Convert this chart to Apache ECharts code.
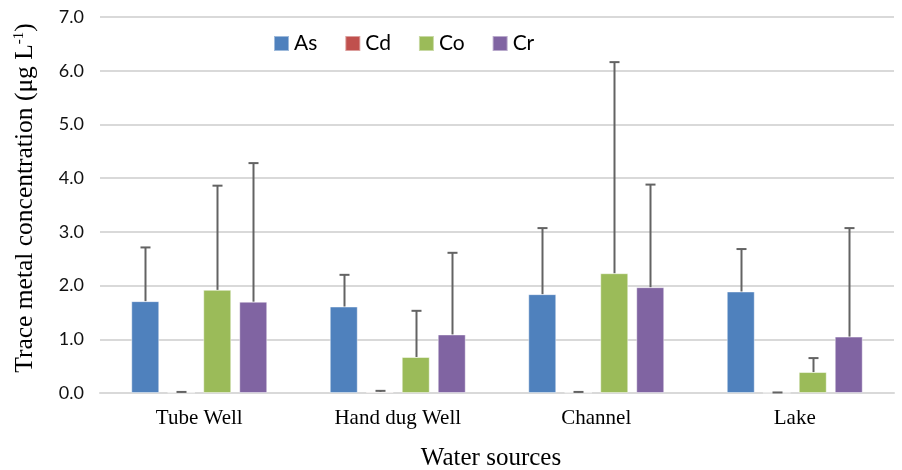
<!DOCTYPE html>
<html>
<head>
<meta charset="utf-8">
<script src="https://cdn.jsdelivr.net/npm/echarts@6/dist/echarts.min.js"></script>
<style>html,body{margin:0;padding:0;background:#fff}#c{width:902px;height:470px}</style>
</head>
<body>
<div id="c"></div>
<script>
var categories = ['Tube Well', 'Hand dug Well', 'Channel', 'Lake'];
var metals = ['As', 'Cd', 'Co', 'Cr'];
var colors = ['#4F81BD', '#C0504D', '#9BBB59', '#8064A2'];
var asMean = [1.71, 1.61, 1.84, 1.89];
var asSD   = [1.00, 0.59, 1.23, 0.79];
var cdMean = [0.01, 0.02, 0.01, 0.005];
var cdSD   = [0.01, 0.02, 0.01, 0.005];
var coMean = [1.92, 0.67, 2.23, 0.39];
var coSD   = [1.94, 0.86, 3.93, 0.26];
var crMean = [1.70, 1.09, 1.97, 1.05];
var crSD   = [2.58, 1.52, 1.91, 2.02];
var yTicks = [0, 1, 2, 3, 4, 5, 6, 7];

var means = [asMean, cdMean, coMean, crMean];
var sds = [asSD, cdSD, coSD, crSD];
var BAR_GAP = 0.286, CAT_GAP = 0.315;

var chart = echarts.init(document.getElementById('c'));
var series = [];
metals.forEach(function (m, k) {
  series.push({
    name: m, type: 'bar', data: means[k],
    barGap: (BAR_GAP * 100) + '%', barCategoryGap: (CAT_GAP * 100) + '%',
    itemStyle: { color: colors[k], borderColor: 'rgba(255,255,255,0.45)', borderWidth: 1 },
    z: 2
  });
});
metals.forEach(function (m, k) {
  series.push({
    name: m + ' err', type: 'custom', z: 5, silent: true,
    data: categories.map(function (c, i) { return [i, means[k][i], sds[k][i]]; }),
    renderItem: function (params, api) {
      var i = api.value(0), mean = api.value(1), sd = api.value(2);
      var catW = api.size([1, 0])[0];
      var barW = catW * (1 - CAT_GAP) / (4 + 3 * BAR_GAP);
      var off = (k - 1.5) * barW * (1 + BAR_GAP);
      var p0 = api.coord([i, mean]);
      var p1 = api.coord([i, mean + sd]);
      var x = Math.round(p0[0] + off) + 0.5;
      var st = { stroke: '#636363', lineWidth: 2 };
      return { type: 'group', children: [
        { type: 'line', shape: { x1: x, y1: p0[1], x2: x, y2: p1[1] }, style: st },
        { type: 'line', shape: { x1: x - 5, y1: p1[1], x2: x + 5, y2: p1[1] }, style: st }
      ]};
    }
  });
});

chart.setOption({
  animation: false,
  grid: { left: 100, right: 8, top: 17, bottom: 77, containLabel: false },
  legend: {
    data: metals, left: 268, top: 28, itemWidth: 15, itemHeight: 15, itemGap: 27,
    icon: 'rect', textStyle: { fontFamily: 'Lato', fontSize: 21, color: '#000' }
  },
  xAxis: {
    type: 'category', data: categories,
    axisLine: { lineStyle: { color: '#d9d9d9', width: 2 } },
    axisTick: { show: false },
    axisLabel: { fontFamily: 'Liberation Serif', fontSize: 21, color: '#000', margin: 15 }
  },
  yAxis: {
    type: 'value', min: yTicks[0], max: yTicks[yTicks.length - 1], interval: 1,
    axisLine: { show: false }, axisTick: { show: false },
    splitLine: { lineStyle: { color: '#d9d9d9', width: 2 } },
    axisLabel: { fontFamily: 'Lato', fontSize: 18, color: '#111', margin: 16,
      formatter: function (v) { return v.toFixed(1); } }
  },
  graphic: [
    { type: 'text', x: 25, y: 198, rotation: Math.PI / 2,
      style: { text: '{m|Trace metal concentration (μg L}{s|-1}{m|)}', align: 'center', verticalAlign: 'middle',
        rich: { m: { fontFamily: 'Liberation Serif', fontSize: 25.5, fill: '#000', color: '#000' },
                s: { fontFamily: 'Liberation Serif', fontSize: 15, fill: '#000', color: '#000', verticalAlign: 'top', padding: [0, 0, 10, 0] } } } },
    { type: 'text', x: 491, y: 458,
      style: { text: 'Water sources', align: 'center', verticalAlign: 'middle',
        font: '25px "Liberation Serif"', fill: '#000' } }
  ],
  series: series
});
</script>
</body>
</html>
